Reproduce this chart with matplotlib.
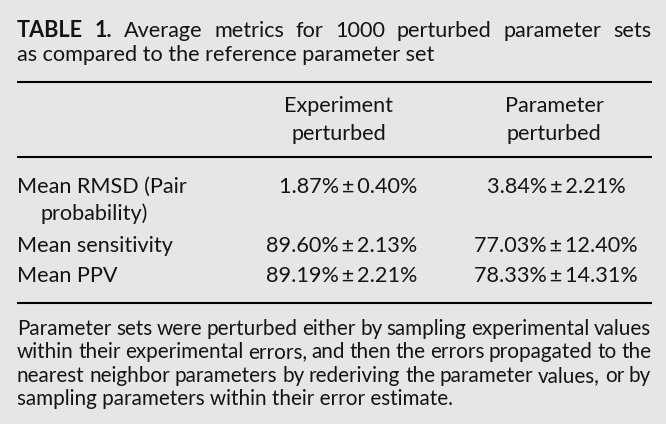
import matplotlib
matplotlib.use("Agg")
import matplotlib.pyplot as plt

# table content
title_bold = ["TABLE", "1."]
title_words = ["Average", "metrics", "for", "1000", "perturbed", "parameter", "sets"]
title_line2 = "as compared to the reference parameter set"
col_headers = [["Experiment", "perturbed"], ["Parameter", "perturbed"]]
row_labels = [["Mean RMSD (Pair", "probability)"], ["Mean sensitivity"], ["Mean PPV"]]
exp_mean = [1.87, 89.60, 89.19]
exp_sd = [0.40, 2.13, 2.21]
par_mean = [3.84, 77.03, 78.33]
par_sd = [2.21, 12.40, 14.31]
footnote = [
    "Parameter sets were perturbed either by sampling experimental values",
    "within their experimental errors, and then the errors propagated to the",
    "nearest neighbor parameters by rederiving the parameter values, or by",
    "sampling parameters within their error estimate.",
]

W, H = 666, 424
BG = "#e6e6e6"
INK = "#141414"
FONT = "Lato"
X0, X1 = 17, 651
SIZE = 15.6
FOOT = 14.9

fig = plt.figure(figsize=(W / 100, H / 100), dpi=100, facecolor=BG)
ax = fig.add_axes([0, 0, 1, 1])
ax.set_xlim(0, W)
ax.set_ylim(H, 0)
ax.axis("off")
ax.set_facecolor(BG)
renderer = fig.canvas.get_renderer()


def justify(words, y, size, weights=None):
    # place words so the line fills X0..X1
    weights = weights or ["normal"] * len(words)
    texts = [ax.text(0, y, w, fontsize=size, family=FONT, weight=wt, color=INK,
                     va="baseline", ha="left") for w, wt in zip(words, weights)]
    widths = [t.get_window_extent(renderer).width for t in texts]
    gap = (X1 - X0 - sum(widths)) / (len(words) - 1)
    x = X0
    for t, w in zip(texts, widths):
        t.set_x(x)
        x += w + gap


def txt(x, y, s, size=SIZE, ha="left"):
    ax.text(x, y, s, fontsize=size, family=FONT, color=INK, va="baseline", ha=ha)


# title
justify(title_bold + title_words, 37, SIZE,
        ["bold"] * len(title_bold) + ["normal"] * len(title_words))
txt(X0, 61, title_line2)

# rules
for y in [82, 157, 303]:
    ax.plot([X0, X1 + 1], [y, y], color="black", lw=1.5, solid_capstyle="butt")

# headers
for cx, lines in zip([339, 554], col_headers):
    for i, s in enumerate(lines):
        txt(cx, 112 + 28 * i, s, ha="center")

# rows
row_y = [193, 252, 282]
for i, y in enumerate(row_y):
    txt(X0, y, row_labels[i][0])
    if len(row_labels[i]) > 1:
        txt(40, y + 27, row_labels[i][1])
    txt(417, y, f"{exp_mean[i]:.2f}%\u2009±\u2009{exp_sd[i]:.2f}%", ha="right")
    txt(556, y, f"{par_mean[i]:.2f}%\u2009±\u2009{par_sd[i]:.2f}%", ha="center")

# footnote
for i, line in enumerate(footnote):
    y = 335 + 23.4 * i
    if i < len(footnote) - 1:
        justify(line.split(), y, FOOT)
    else:
        txt(X0, y, line, size=FOOT)

fig.savefig("out.png", dpi=100, facecolor=BG)
